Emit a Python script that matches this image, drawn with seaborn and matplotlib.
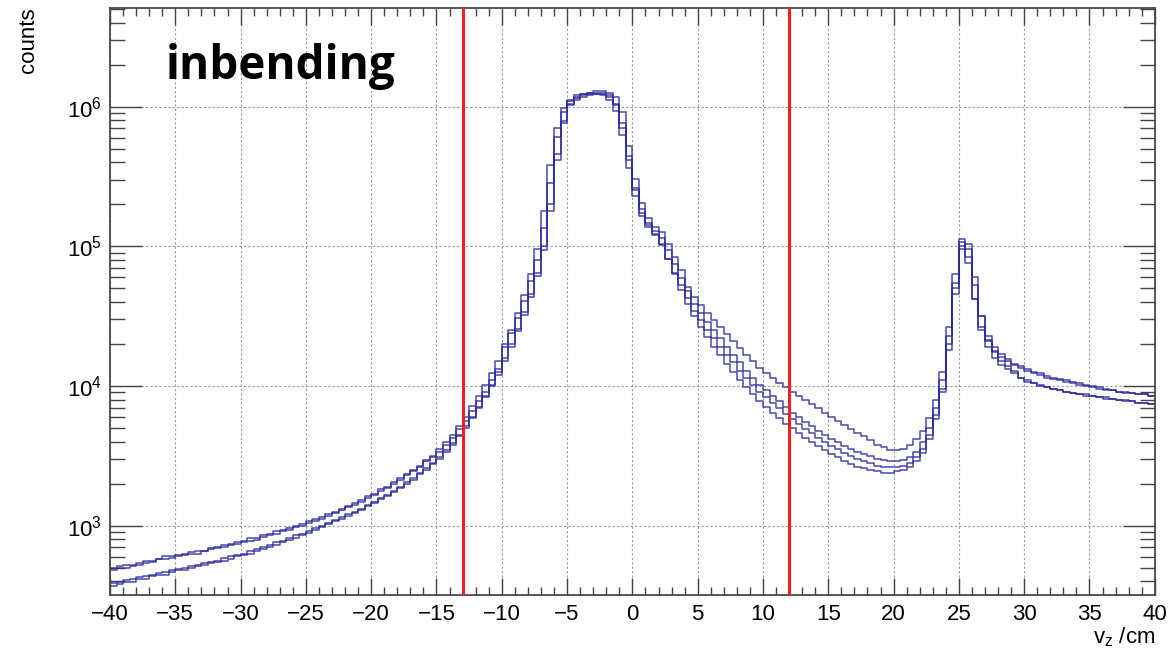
import numpy as np
import pandas as pd
import seaborn as sns
import matplotlib.pyplot as plt
import matplotlib.ticker as ticker

# bins: 0.5 cm wide, -40 .. 40 ; values are log10(counts)
bin_edges = np.arange(-40, 40.01, 0.5)

logc_a = [
    2.70, 2.71, 2.72, 2.72, 2.73, 2.75, 2.75, 2.76, 2.78, 2.78,
    2.79, 2.80, 2.81, 2.82, 2.82, 2.84, 2.85, 2.86, 2.87, 2.88,
    2.89, 2.91, 2.91, 2.93, 2.94, 2.96, 2.97, 2.98, 3.00, 3.01,
    3.03, 3.05, 3.06, 3.08, 3.10, 3.12, 3.14, 3.16, 3.18, 3.21,
    3.23, 3.26, 3.28, 3.31, 3.34, 3.37, 3.40, 3.43, 3.47, 3.50,
    3.55, 3.60, 3.65, 3.71, 3.78, 3.86, 3.93, 4.01, 4.09, 4.18,
    4.28, 4.38, 4.49, 4.61, 4.75, 4.90, 5.13, 5.45, 5.78, 5.96,
    6.04, 6.07, 6.09, 6.10, 6.11, 6.11, 6.10, 6.07, 5.96, 5.72,
    5.48, 5.31, 5.20, 5.14, 5.10, 5.02, 4.92, 4.83, 4.71, 4.64,
    4.58, 4.52, 4.47, 4.42, 4.37, 4.32, 4.27, 4.22, 4.18, 4.13,
    4.09, 4.06, 4.02, 3.99, 3.96, 3.93, 3.90, 3.87, 3.84, 3.81,
    3.78, 3.75, 3.72, 3.69, 3.66, 3.64, 3.61, 3.58, 3.56, 3.54,
    3.54, 3.55, 3.58, 3.62, 3.68, 3.77, 3.90, 4.10, 4.42, 4.80,
    5.05, 4.92, 4.62, 4.42, 4.32, 4.25, 4.21, 4.18, 4.15, 4.13,
    4.11, 4.09, 4.08, 4.06, 4.05, 4.04, 4.03, 4.02, 4.01, 4.00,
    3.99, 3.98, 3.97, 3.97, 3.96, 3.95, 3.95, 3.94, 3.94, 3.93,
]
logc_b = [
    2.68, 2.70, 2.70, 2.71, 2.72, 2.73, 2.74, 2.76, 2.76, 2.77,
    2.78, 2.79, 2.80, 2.80, 2.82, 2.83, 2.84, 2.85, 2.86, 2.87,
    2.88, 2.89, 2.90, 2.92, 2.93, 2.94, 2.96, 2.97, 2.99, 3.00,
    3.02, 3.03, 3.05, 3.07, 3.09, 3.11, 3.13, 3.15, 3.17, 3.20,
    3.22, 3.25, 3.27, 3.30, 3.33, 3.36, 3.39, 3.42, 3.46, 3.49,
    3.53, 3.58, 3.63, 3.69, 3.75, 3.82, 3.89, 3.96, 4.04, 4.12,
    4.30, 4.40, 4.52, 4.65, 4.80, 4.98, 5.25, 5.58, 5.85, 5.99,
    6.05, 6.08, 6.09, 6.10, 6.10, 6.10, 6.08, 6.02, 5.88, 5.65,
    5.42, 5.27, 5.17, 5.11, 5.06, 4.97, 4.87, 4.77, 4.68, 4.59,
    4.52, 4.46, 4.40, 4.34, 4.28, 4.22, 4.17, 4.11, 4.06, 4.01,
    3.97, 3.93, 3.89, 3.85, 3.81, 3.78, 3.74, 3.71, 3.68, 3.65,
    3.62, 3.60, 3.57, 3.55, 3.53, 3.51, 3.50, 3.48, 3.47, 3.46,
    3.46, 3.47, 3.49, 3.53, 3.60, 3.70, 3.84, 4.04, 4.36, 4.74,
    5.03, 4.98, 4.72, 4.50, 4.36, 4.28, 4.23, 4.19, 4.16, 4.14,
    4.12, 4.10, 4.09, 4.07, 4.06, 4.05, 4.04, 4.03, 4.02, 4.01,
    4.00, 3.99, 3.98, 3.97, 3.96, 3.96, 3.95, 3.94, 3.94, 3.93,
]
logc_c = [
    2.59, 2.60, 2.61, 2.62, 2.63, 2.64, 2.65, 2.66, 2.67, 2.68,
    2.69, 2.70, 2.71, 2.72, 2.73, 2.74, 2.75, 2.77, 2.78, 2.79,
    2.80, 2.82, 2.83, 2.85, 2.86, 2.88, 2.89, 2.91, 2.93, 2.94,
    2.96, 2.98, 3.00, 3.02, 3.04, 3.06, 3.08, 3.10, 3.12, 3.15,
    3.17, 3.20, 3.22, 3.25, 3.28, 3.31, 3.34, 3.38, 3.41, 3.45,
    3.49, 3.54, 3.59, 3.65, 3.71, 3.78, 3.85, 3.93, 4.01, 4.10,
    4.20, 4.30, 4.41, 4.53, 4.66, 4.81, 5.00, 5.30, 5.66, 5.90,
    6.02, 6.06, 6.08, 6.09, 6.09, 6.08, 6.05, 5.97, 5.80, 5.56,
    5.36, 5.22, 5.14, 5.08, 5.01, 4.91, 4.81, 4.72, 4.63, 4.54,
    4.47, 4.40, 4.34, 4.28, 4.22, 4.17, 4.11, 4.06, 4.01, 3.96,
    3.92, 3.88, 3.84, 3.80, 3.76, 3.73, 3.69, 3.66, 3.63, 3.60,
    3.57, 3.55, 3.52, 3.50, 3.48, 3.46, 3.45, 3.43, 3.42, 3.42,
    3.42, 3.43, 3.45, 3.49, 3.55, 3.65, 3.79, 3.98, 4.30, 4.70,
    5.00, 4.88, 4.62, 4.40, 4.28, 4.20, 4.15, 4.12, 4.09, 4.06,
    4.03, 4.02, 4.00, 3.99, 3.98, 3.97, 3.96, 3.95, 3.94, 3.93,
    3.93, 3.92, 3.91, 3.91, 3.90, 3.89, 3.89, 3.88, 3.88, 3.87,
]
logc_d = [
    2.57, 2.58, 2.60, 2.60, 2.62, 2.62, 2.64, 2.65, 2.65, 2.67,
    2.68, 2.68, 2.70, 2.71, 2.72, 2.73, 2.74, 2.75, 2.76, 2.78,
    2.79, 2.80, 2.82, 2.83, 2.85, 2.86, 2.88, 2.90, 2.91, 2.93,
    2.95, 2.97, 2.99, 3.01, 3.03, 3.05, 3.07, 3.09, 3.11, 3.14,
    3.16, 3.19, 3.21, 3.24, 3.27, 3.30, 3.33, 3.37, 3.40, 3.44,
    3.48, 3.53, 3.58, 3.64, 3.70, 3.77, 3.84, 3.92, 4.00, 4.08,
    4.18, 4.28, 4.39, 4.51, 4.64, 4.79, 4.97, 5.25, 5.62, 5.88,
    6.01, 6.05, 6.07, 6.08, 6.09, 6.09, 6.07, 6.01, 5.85, 5.62,
    5.40, 5.24, 5.15, 5.09, 5.02, 4.91, 4.80, 4.69, 4.59, 4.50,
    4.42, 4.35, 4.28, 4.22, 4.16, 4.10, 4.04, 3.99, 3.94, 3.89,
    3.85, 3.81, 3.77, 3.73, 3.70, 3.66, 3.63, 3.60, 3.57, 3.54,
    3.51, 3.49, 3.46, 3.44, 3.42, 3.41, 3.40, 3.39, 3.38, 3.38,
    3.39, 3.40, 3.42, 3.46, 3.52, 3.62, 3.76, 3.96, 4.26, 4.66,
    4.98, 5.02, 4.78, 4.50, 4.33, 4.24, 4.18, 4.14, 4.11, 4.06,
    4.04, 4.02, 4.01, 3.99, 3.98, 3.97, 3.96, 3.95, 3.94, 3.94,
    3.93, 3.92, 3.92, 3.91, 3.90, 3.90, 3.89, 3.88, 3.88, 3.87,
]
series = {"a": logc_a, "b": logc_b, "c": logc_c, "d": logc_d}

# vertex cut positions (cm)
cut_lines = [-13.0, 12.0]

x_ticks = [-40, -35, -30, -25, -20, -15, -10, -5, 0, 5, 10, 15, 20, 25, 30, 35, 40]
y_limits = (320, 5.1e6)

#%% build long table
centers = 0.5 * (bin_edges[:-1] + bin_edges[1:])
df = pd.concat(
    [pd.DataFrame({"vz": centers, "counts": 10 ** np.array(v), "run": k}) for k, v in series.items()],
    ignore_index=True,
)

#%% plot
sns.set_theme(style="ticks")
plt.rcParams["font.family"] = ["Liberation Sans", "DejaVu Sans"]
plt.rcParams["mathtext.fontset"] = "custom"
plt.rcParams["mathtext.rm"] = "Liberation Sans"
plt.rcParams["mathtext.it"] = "Liberation Sans"
plt.rcParams["text.color"] = "black"
plt.rcParams["axes.labelcolor"] = "black"

fig = plt.figure(figsize=(11.7, 6.5), dpi=100)
ax = fig.add_axes([0.094, 0.085, 0.893, 0.903])

for run, sub in df.groupby("run"):
    sns.histplot(data=sub, x="vz", weights="counts", bins=list(bin_edges), element="step",
                 fill=False, color="#2a2aa0", linewidth=1.1, alpha=0.85, ax=ax)

ax.set_yscale("log")
ax.set_xlim(-40, 40)
ax.set_ylim(*y_limits)

for xc in cut_lines:
    ax.axvline(xc, color="#f02020", lw=2.2, zorder=5)

ax.set_xticks(x_ticks)
ax.xaxis.set_minor_locator(ticker.MultipleLocator(1))
ax.yaxis.set_major_locator(ticker.LogLocator(base=10))
ax.yaxis.set_minor_locator(ticker.LogLocator(base=10, subs=np.arange(2, 10)))
ax.yaxis.set_minor_formatter(ticker.NullFormatter())

ax.grid(True, which="major", color="#9a9a9a", linestyle=(0, (2, 2)), linewidth=0.8)
ax.tick_params(axis="both", which="both", direction="in", top=True, right=True,
               colors="#444444", labelcolor="black", labelsize=16, width=1.0)
ax.tick_params(axis="x", which="major", length=12, pad=7)
ax.tick_params(axis="x", which="minor", length=6)
ax.tick_params(axis="y", which="major", length=23, pad=6)
ax.tick_params(axis="y", which="minor", length=11)
for s in ax.spines.values():
    s.set_color("#444444")

ax.set_xlabel("v$_z$ /cm", loc="right", fontsize=16, labelpad=0)
ax.set_ylabel("counts", loc="top", fontsize=16, labelpad=20)

ax.text(0.053, 0.94, "inbending", transform=ax.transAxes, fontsize=33,
        fontweight="bold", color="black", family=["Open Sans", "DejaVu Sans"],
        va="top", ha="left")

plt.savefig("out.png", dpi=100)
plt.close()
